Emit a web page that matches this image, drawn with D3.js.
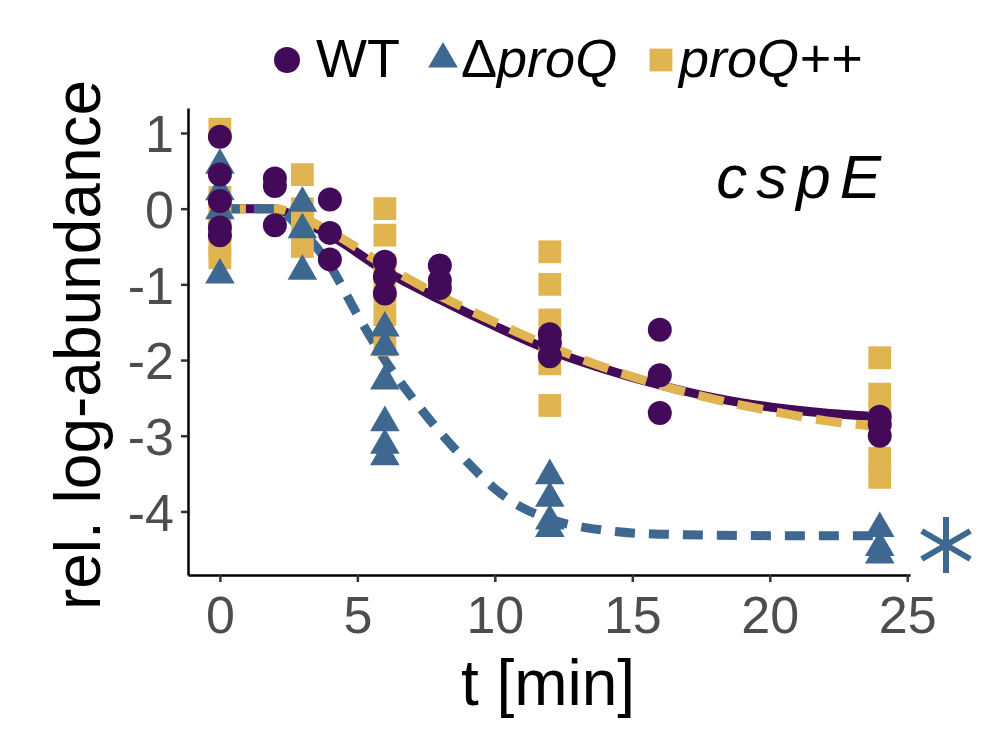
<!DOCTYPE html>
<html><head><meta charset="utf-8">
<script src="https://cdn.jsdelivr.net/npm/d3@7"></script>
<style>body{margin:0;background:#fff;font-family:"Liberation Sans",Arial,sans-serif}</style>
</head><body><svg id="chart" width="992" height="732"></svg>
<script>
// observed points: [t, value]
const wtPoints = [[0,0.95],[0,0.45],[0,0.1],[0,-0.25],[0,-0.35],[2,0.4],[2,0.3],[2,-0.22],
  [4,0.12],[4,-0.32],[4,-0.67],[6,-0.7],[6,-0.9],[6,-1.12],[8,-0.75],[8,-0.95],[8,-1.05],
  [12,-1.66],[12,-1.77],[12,-1.95],[16,-1.6],[16,-2.2],[16,-2.7],[24,-2.75],[24,-2.85],[24,-3.0]];
const dproQPoints = [[0,0.6],[0,0.25],[0,0.0],[0,-0.85],[3,0.1],[3,-0.25],[3,-0.8],
  [6,-1.55],[6,-1.8],[6,-2.25],[6,-2.8],[6,-3.1],[6,-3.25],
  [12,-3.5],[12,-3.8],[12,-4.1],[12,-4.2],[24,-4.2],[24,-4.45],[24,-4.55]];
const proQppPoints = [[0,1.05],[0,0.15],[0,-0.05],[0,-0.3],[0,-0.5],[0,-0.65],
  [3,0.45],[3,0.0],[3,-0.2],[3,-0.5],
  [6,0.0],[6,-0.35],[6,-0.75],[6,-1.1],[6,-1.4],[6,-1.8],
  [12,-0.57],[12,-1.0],[12,-1.47],[12,-1.75],[12,-2.05],[12,-2.6],
  [24,-1.97],[24,-2.45],[24,-2.7],[24,-3.3],[24,-3.55]];
// fitted curves
const wtFit = [[0,0],[2,0],[3,-0.17],[4,-0.35],[6,-0.82],[8,-1.2],[10,-1.55],[12,-1.87],[14,-2.12],
  [16,-2.33],[18,-2.5],[20,-2.62],[22,-2.7],[24,-2.75]];
const proQppFit = [[0,0],[2,0],[3,-0.12],[4,-0.3],[6,-0.75],[8,-1.15],[10,-1.5],[12,-1.82],[14,-2.1],
  [16,-2.33],[18,-2.52],[20,-2.67],[22,-2.8],[24,-2.88]];
const dproQFit = [[0,0],[2,0],[3,-0.3],[4,-0.75],[5,-1.4],[6,-2.0],[7,-2.5],[8,-2.95],[9,-3.35],
  [10,-3.7],[11,-3.95],[12,-4.1],[14,-4.25],[16,-4.3],[20,-4.32],[24,-4.32]];
const xTicks = [0,5,10,15,20,25];
const yTicks = [1,0,-1,-2,-3,-4];

const COL = {wt:"#440a5a", dq:"#3e6890", pp:"#e0b551"};
const svg = d3.select("#chart");
const x = d3.scaleLinear().domain([-1.16,25.1]).range([188,910]);
const y = d3.scaleLinear().domain([1.33,-4.84]).range([108,575]);
const fmt = d => String(d).replace("−","-");

// axes
const xAxis = svg.append("g").attr("transform","translate(0,575)")
  .call(d3.axisBottom(x).tickValues(xTicks).tickFormat(fmt).tickSize(7).tickSizeOuter(0));
const yAxis = svg.append("g").attr("transform","translate(188,0)")
  .call(d3.axisLeft(y).tickValues(yTicks).tickFormat(fmt).tickSize(7).tickSizeOuter(0));
[xAxis,yAxis].forEach(a=>{
  a.select(".domain").attr("stroke","#000").attr("stroke-width",2.5);
  a.selectAll(".tick line").attr("stroke","#333").attr("stroke-width",2.5);
  a.selectAll(".tick text").attr("fill","#4d4d4d").attr("font-size",52)
    .attr("font-family","Liberation Sans, Arial, sans-serif");
});
xAxis.selectAll(".tick text").attr("dy","0.92em");
yAxis.selectAll(".tick text").attr("dy","0.36em").attr("x",-14);

// fit lines
const line = d3.line().x(d=>x(d[0])).y(d=>y(d[1])).curve(d3.curveMonotoneX);
svg.append("path").datum(wtFit).attr("d",line).attr("fill","none").attr("stroke",COL.wt).attr("stroke-width",9);
svg.append("path").datum(proQppFit).attr("d",line).attr("fill","none").attr("stroke",COL.pp).attr("stroke-width",9).attr("stroke-dasharray","26,14");
svg.append("path").datum(dproQFit).attr("d",line).attr("fill","none").attr("stroke",COL.dq).attr("stroke-width",9).attr("stroke-dasharray","20,14");

// points
const sq = d3.symbol().type(d3.symbolSquare).size(520);
const tri = d3.symbol().type(d3.symbolTriangle).size(380);
svg.append("g").selectAll("path").data(proQppPoints).join("path")
  .attr("d",sq).attr("fill",COL.pp).attr("transform",d=>`translate(${x(d[0])},${y(d[1])})`);
svg.append("g").selectAll("path").data(dproQPoints).join("path")
  .attr("d",tri).attr("fill",COL.dq).attr("transform",d=>`translate(${x(d[0])},${y(d[1])+2})`);
svg.append("g").selectAll("circle").data(wtPoints).join("circle")
  .attr("cx",d=>x(d[0])).attr("cy",d=>y(d[1])).attr("r",12).attr("fill",COL.wt);

// asterisk drawn as thin strokes
const ast = svg.append("g").attr("transform","translate(946,545)").attr("stroke",COL.dq).attr("stroke-width",6);
[90,30,150].forEach(a=>{
  const r=a*Math.PI/180;
  ast.append("line").attr("x1",-28*Math.cos(r)).attr("y1",-28*Math.sin(r)).attr("x2",28*Math.cos(r)).attr("y2",28*Math.sin(r));
});

// gene label
svg.append("text").attr("x",890).attr("y",198).attr("text-anchor","end").attr("font-size",62)
  .attr("font-style","italic").attr("letter-spacing",9).attr("fill","#000").text("cspE");

// axis titles
svg.append("text").attr("x",548).attr("y",705).attr("text-anchor","middle").attr("font-size",64).text("t [min]");
svg.append("text").attr("transform","translate(100,345) rotate(-90)").attr("text-anchor","middle")
  .attr("font-size",64).text("rel. log-abundance");

// legend
const lg = svg.append("g").attr("font-size",54);
lg.append("circle").attr("cx",287).attr("cy",60).attr("r",13).attr("fill",COL.wt);
lg.append("text").attr("x",316).attr("y",77).text("WT");
lg.append("path").attr("d",tri).attr("fill",COL.dq).attr("transform","translate(443,59)");
lg.append("text").attr("x",461).attr("y",77).html('Δ<tspan font-style="italic">proQ</tspan>');
lg.append("path").attr("d",sq).attr("fill",COL.pp).attr("transform","translate(661,60)");
lg.append("text").attr("x",679).attr("y",77).attr("font-style","italic").text("proQ++");
</script></body></html>
